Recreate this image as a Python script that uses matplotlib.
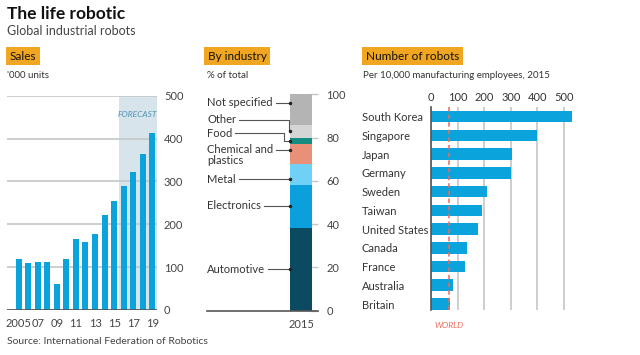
import matplotlib.pyplot as plt
import matplotlib.transforms as mtransforms

plt.rcParams['font.family'] = ['Lato', 'DejaVu Sans']

# Sales, '000 units
years = list(range(2005, 2020))
sales = [118, 110, 113, 113, 60, 120, 165, 158, 177, 221, 254, 289, 322, 363, 414]
year_labels = ['2005', '07', '09', '11', '13', '15', '17', '19']
forecast_start = 2016

# By industry, % of total, 2015
industries = ['Automotive', 'Electronics', 'Metal', 'Chemical and\nplastics', 'Food', 'Other', 'Not specified']
industry_share = [38, 20, 10, 9, 3, 6, 14]
industry_colors = ['#0c4a61', '#0ba0dc', '#70d0f5', '#e99078', '#148c80', '#d5d5d5', '#b4b4b4']

# Robots per 10,000 manufacturing employees, 2015
countries = ['South Korea', 'Singapore', 'Japan', 'Germany', 'Sweden', 'Taiwan',
             'United States', 'Canada', 'France', 'Australia', 'Britain']
density = [531, 398, 305, 301, 212, 190, 176, 136, 127, 84, 71]
world = 69

W, H = 640, 355
BLUE = '#0ba3dc'
GRID = '#c6c6c6'
DARK = '#555555'
TXT = '#333333'
ORANGE = '#f0a621'

fig = plt.figure(figsize=(6.4, 3.55), dpi=100)


def box(x0, y0, x1, y1):
    return [x0 / W, 1 - y1 / H, (x1 - x0) / W, (y1 - y0) / H]


# titles
fig.text(7 / W, 1 - 14 / H, 'The life robotic', fontsize=12.5, fontweight='bold', color='#111111', va='center')
fig.text(7 / W, 1 - 31 / H, 'Global industrial robots', fontsize=9, color='#444444', va='center')
fig.text(7 / W, 1 - 342 / H, 'Source: International Federation of Robotics', fontsize=7.5, color='#444444', va='center')

hdr = dict(boxstyle='square,pad=0.3', fc=ORANGE, ec='none')
fig.text(10 / W, 1 - 56 / H, 'Sales', fontsize=8.5, color='#111111', va='center', bbox=hdr)
fig.text(208 / W, 1 - 56 / H, 'By industry', fontsize=8.5, color='#111111', va='center', bbox=hdr)
fig.text(366 / W, 1 - 56 / H, 'Number of robots', fontsize=8.5, color='#111111', va='center', bbox=hdr)
fig.text(7 / W, 1 - 76 / H, "'000 units", fontsize=7, color=TXT, va='center')
fig.text(207 / W, 1 - 76 / H, '% of total', fontsize=7, color=TXT, va='center')
fig.text(363 / W, 1 - 75 / H, 'Per 10,000 manufacturing employees, 2015', fontsize=7, color=TXT, va='center')

# ---- Sales
ax1 = fig.add_axes(box(7, 95.7, 157, 310))
ax1.axvspan(forecast_start - 0.5, years[-1] + 0.5, color='#d7e4ec', zorder=0, lw=0)
ax1.bar(years, sales, width=0.63, color=BLUE, zorder=2)
ax1.set_xlim(years[0] - 1.23, years[-1] + 0.5)
ax1.set_ylim(0, 500)
ax1.yaxis.tick_right()
ax1.set_yticks(range(0, 501, 100))
ax1.grid(axis='y', color=GRID, lw=1.2, zorder=1)
ax1.axhline(0, color=DARK, lw=1.2, zorder=3)
ax1.set_xticks(years[::2])
ax1.set_xticklabels(year_labels)
ax1.tick_params(length=0, labelsize=8, colors='#444444')
ax1.tick_params(axis='y', pad=5)
ax1.tick_params(axis='x', pad=6)
for s in ax1.spines.values():
    s.set_visible(False)
ax1.text(years[-1] + 0.5, 455, 'FORECAST', fontsize=6, style='italic', color='#4f93b3', ha='right', va='center')

# ---- By industry
ax2 = fig.add_axes(box(207, 94.3, 318, 310.7))
ax2.set_xlim(-4.27, 0.77)
ax2.set_ylim(0, 100)
bottom = 0
mids = []
for share, col in zip(industry_share, industry_colors):
    ax2.bar(0, share, bottom=bottom, width=1, color=col, zorder=2)
    mids.append(bottom + share / 2)
    bottom += share
for k in ['left', 'top', 'right']:
    ax2.spines[k].set_visible(False)
ax2.spines['bottom'].set_color(DARK)
ax2.spines['bottom'].set_linewidth(1.2)
ax2.yaxis.tick_right()
ax2.set_yticks(range(0, 101, 20))
ax2.tick_params(axis='y', direction='in', length=6, width=1, color=GRID, labelsize=8, labelcolor='#444444', pad=6)
ax2.set_xticks([0])
ax2.set_xticklabels(['2015'])
ax2.tick_params(axis='x', length=0, labelsize=8, labelcolor='#444444', pad=6)

# label y positions and elbow x for leader lines (layout only)
label_y = [19.1, 48.4, 60.7, 74.3, 81.9, 88.3, 96.1]
elbow_x = [None, None, None, None, -0.78, -0.55, None]
fig.canvas.draw()
rend = fig.canvas.get_renderer()
inv = ax2.transData.inverted()
for name, ly, my, ex in zip(industries, label_y, mids, elbow_x):
    if '\n' in name:
        t = ax2.text(-4.27, ly + 2.6, name, fontsize=8, color=TXT, va='top', ha='left', linespacing=1.0)
        first = ax2.text(-4.27, 0, name.split('\n')[0], fontsize=8)
        xend = t.get_window_extent(rend).x0 + first.get_window_extent(rend).width
        first.remove()
    else:
        t = ax2.text(-4.27, ly, name, fontsize=8, color=TXT, va='center', ha='left')
        xend = t.get_window_extent(rend).x1
    x0 = inv.transform((xend + 3, 0))[0]
    if ex is None:
        xs, ys = [x0, -0.5], [ly, ly]
    else:
        xs, ys = [x0, ex, ex, -0.5], [ly, ly, my, my]
    ax2.plot(xs, ys, color=DARK, lw=0.8, zorder=3, clip_on=False)
    ax2.plot([-0.5], [ys[-1]], 'o', color='#222222', ms=1.5, zorder=3)

# ---- Number of robots
ax3 = fig.add_axes(box(431, 106.7, 576, 310))
pos = list(range(len(countries)))
ax3.barh(pos, density, height=0.62, color=BLUE, zorder=2)
ax3.set_xlim(0, 545)
ax3.set_ylim(len(countries) - 1 + 0.32, -0.53)
ax3.set_xticks(range(0, 501, 100))
ax3.xaxis.tick_top()
ax3.grid(axis='x', color=GRID, lw=1.2, zorder=1)
ax3.set_yticks(pos)
ax3.set_yticklabels(countries, ha='left')
ax3.tick_params(length=0, labelsize=8, colors='#333333')
ax3.tick_params(axis='y', pad=49.7)
ax3.tick_params(axis='x', pad=3)
for k in ['top', 'right', 'bottom']:
    ax3.spines[k].set_visible(False)
ax3.spines['left'].set_color(DARK)
ax3.spines['left'].set_linewidth(1.2)
ax3.spines['left'].set_zorder(4)
ax3.axvline(world, color='#f06a5a', lw=1.1, ls=(0, (3, 2)), zorder=3)
trans = mtransforms.blended_transform_factory(ax3.transData, fig.transFigure)
ax3.text(world, 1 - 326 / H, 'WORLD', transform=trans, fontsize=6, style='italic', color='#f06a5a', ha='center', va='center')

fig.savefig('out.png', dpi=100)
